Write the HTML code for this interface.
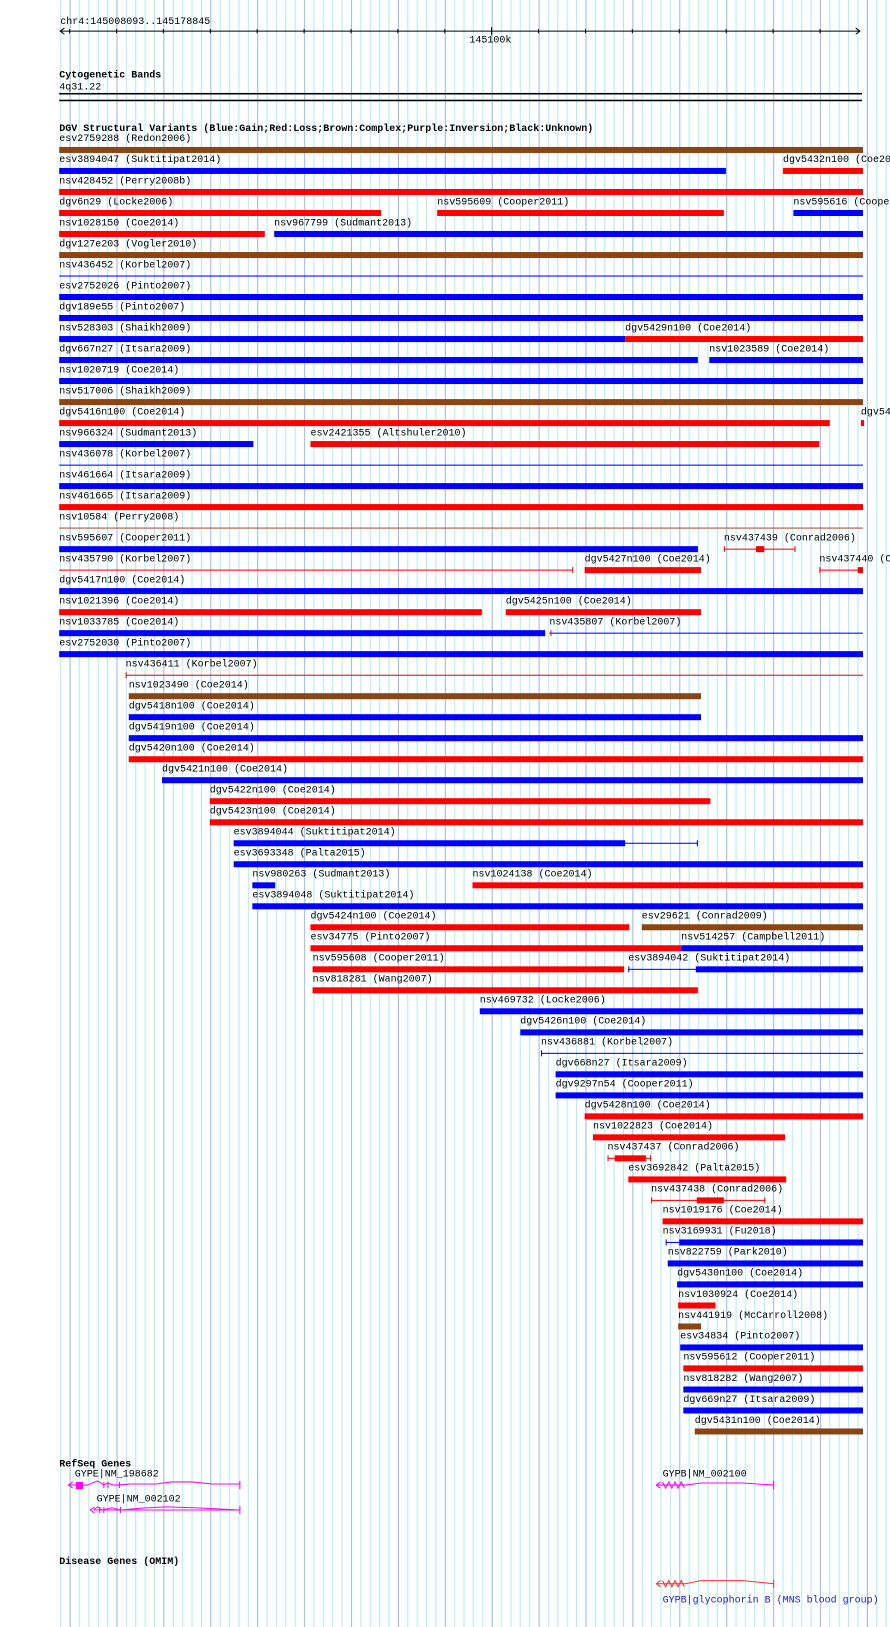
<!DOCTYPE html>
<html><head><meta charset="utf-8"><style>
html,body{margin:0;padding:0;background:#fff}
svg{display:block}
text{font-family:"Liberation Mono","DejaVu Sans Mono",monospace;font-size:9.63px;fill:#000}
.b{font-weight:bold}
</style></head><body>
<svg width="890" height="1627" viewBox="0 0 890 1627" xmlns="http://www.w3.org/2000/svg">
<defs>
<pattern id="g" x="60.2" y="0" width="46.9" height="10" patternUnits="userSpaceOnUse">
<rect x="0" y="0" width="1" height="10" fill="#a8eef2"/>
<rect x="9.38" y="0" width="1" height="10" fill="#8cb8f0"/>
<rect x="18.76" y="0" width="1" height="10" fill="#a8eef2"/>
<rect x="28.14" y="0" width="1" height="10" fill="#a8eef2"/>
<rect x="37.52" y="0" width="1" height="10" fill="#a8eef2"/>
</pattern>
</defs>
<rect x="60" y="0" width="830" height="1627" fill="url(#g)"/>
<g transform="scale(1.0385)">
<!-- ruler -->
<text x="58" y="23">chr4:145008093..145178845</text>
<line x1="58" y1="30" x2="828" y2="30" stroke="#000" stroke-width="1"/>
<path d="M62 27 L58 30 L62 33 M824 27 L828 30 L824 33" stroke="#000" fill="none" stroke-width="1"/>
<path d="M67 28v4M112.2 28v4M157.3 28v4M202.5 28v4M247.6 28v4M292.8 28v4M338 28v4M383.1 28v4M428.3 28v4M473.4 26v8M518.6 28v4M563.8 28v4M608.9 28v4M654.1 28v4M699.2 28v4M744.4 28v4M789.6 28v4" stroke="#000" stroke-width="1"/>
<text x="452" y="41">145100k</text>
<text x="57" y="74.5" class="b">Cytogenetic Bands</text>
<text x="57" y="86">4q31.22</text>
<rect x="57" y="89.5" width="773" height="1.5" fill="#000"/>
<rect x="57" y="96" width="773" height="1.5" fill="#000"/>
<text x="57" y="126" class="b">DGV Structural Variants (Blue:Gain;Red:Loss;Brown:Complex;Purple:Inversion;Black:Unknown)</text>

<g transform="translate(0,141.5)"><text x="57" y="-5.5">esv2759288 (Redon2006)</text><rect x="57" width="774" height="5.8" fill="#8b4513"/></g>
<g transform="translate(0,161.7)"><text x="57" y="-5.5">esv3894047 (Suktitipat2014)</text><rect x="57" width="642" height="5.8" fill="#0000ff"/><text x="754" y="-5.5">dgv5432n100 (Coe2014)</text><rect x="754" width="77" height="5.8" fill="#ff0000"/></g>
<g transform="translate(0,181.96)"><text x="57" y="-5.5">nsv428452 (Perry2008b)</text><rect x="57" width="774" height="5.8" fill="#ff0000"/></g>
<g transform="translate(0,202.2)"><text x="57" y="-5.5">dgv6n29 (Locke2006)</text><rect x="57" width="310" height="5.8" fill="#ff0000"/><text x="421" y="-5.5">nsv595609 (Cooper2011)</text><rect x="421" width="276" height="5.8" fill="#ff0000"/><text x="764" y="-5.5">nsv595616 (Cooper2011)</text><rect x="764" width="67" height="5.8" fill="#0000ff"/></g>
<g transform="translate(0,222.4)"><text x="57" y="-5.5">nsv1028150 (Coe2014)</text><rect x="57" width="198" height="5.8" fill="#ff0000"/><text x="264" y="-5.5">nsv967799 (Sudmant2013)</text><rect x="264" width="567" height="5.8" fill="#0000ff"/></g>
<g transform="translate(0,242.7)"><text x="57" y="-5.5">dgv127e203 (Vogler2010)</text><rect x="57" width="774" height="5.8" fill="#8b4513"/></g>
<g transform="translate(0,262.9)"><text x="57" y="-5.5">nsv436452 (Korbel2007)</text><rect x="57" y="2.4" width="774" height="1" fill="#0000ff"/></g>
<g transform="translate(0,283.1)"><text x="57" y="-5.5">esv2752026 (Pinto2007)</text><rect x="57" width="774" height="5.8" fill="#0000ff"/></g>
<g transform="translate(0,303.3)"><text x="57" y="-5.5">dgv189e55 (Pinto2007)</text><rect x="57" width="774" height="5.8" fill="#0000ff"/></g>
<g transform="translate(0,323.6)"><text x="57" y="-5.5">nsv528303 (Shaikh2009)</text><rect x="57" width="545" height="5.8" fill="#0000ff"/><text x="602" y="-5.5">dgv5429n100 (Coe2014)</text><rect x="602" width="229" height="5.8" fill="#ff0000"/></g>
<g transform="translate(0,343.8)"><text x="57" y="-5.5">dgv667n27 (Itsara2009)</text><rect x="57" width="615" height="5.8" fill="#0000ff"/><text x="683" y="-5.5">nsv1023589 (Coe2014)</text><rect x="683" width="148" height="5.8" fill="#0000ff"/></g>
<g transform="translate(0,364.0)"><text x="57" y="-5.5">nsv1020719 (Coe2014)</text><rect x="57" width="774" height="5.8" fill="#0000ff"/></g>
<g transform="translate(0,384.3)"><text x="57" y="-5.5">nsv517006 (Shaikh2009)</text><rect x="57" width="774" height="5.8" fill="#8b4513"/></g>
<g transform="translate(0,404.5)"><text x="57" y="-5.5">dgv5416n100 (Coe2014)</text><rect x="57" width="742" height="5.8" fill="#ff0000"/><text x="829" y="-5.5">dgv5415n100</text><rect x="829" width="3" height="5.8" fill="#ff0000"/></g>
<g transform="translate(0,424.7)"><text x="57" y="-5.5">nsv966324 (Sudmant2013)</text><rect x="57" width="187" height="5.8" fill="#0000ff"/><text x="299" y="-5.5">esv2421355 (Altshuler2010)</text><rect x="299" width="490" height="5.8" fill="#ff0000"/></g>
<g transform="translate(0,445.0)"><text x="57" y="-5.5">nsv436078 (Korbel2007)</text><rect x="57" y="2.4" width="774" height="1" fill="#0000ff"/></g>
<g transform="translate(0,465.2)"><text x="57" y="-5.5">nsv461664 (Itsara2009)</text><rect x="57" width="774" height="5.8" fill="#0000ff"/></g>
<g transform="translate(0,485.4)"><text x="57" y="-5.5">nsv461665 (Itsara2009)</text><rect x="57" width="774" height="5.8" fill="#ff0000"/></g>
<g transform="translate(0,505.6)"><text x="57" y="-5.5">nsv10584 (Perry2008)</text><rect x="57" y="2.4" width="774" height="1" fill="#a0522d"/></g>
<g transform="translate(0,525.9)"><text x="57" y="-5.5">nsv595607 (Cooper2011)</text><rect x="57" width="615" height="5.8" fill="#0000ff"/><text x="697" y="-5.5">nsv437439 (Conrad2006)</text><rect x="697" y="2.4" width="69" height="1" fill="#ff0000"/><rect x="697" width="1" height="5.8" fill="#ff0000"/><rect x="765" width="1" height="5.8" fill="#ff0000"/><rect x="728" width="8" height="5.8" fill="#ff0000"/></g>
<g transform="translate(0,546.1)"><text x="57" y="-5.5">nsv435790 (Korbel2007)</text><rect x="57" y="2.4" width="495" height="1" fill="#ff0000"/><rect x="551" width="1" height="5.8" fill="#ff0000"/><text x="563" y="-5.5">dgv5427n100 (Coe2014)</text><rect x="563" width="112" height="5.8" fill="#ff0000"/><text x="789" y="-5.5">nsv437440 (Conrad2006)</text><rect x="789" y="2.4" width="40" height="1" fill="#ff0000"/><rect x="789" width="1" height="5.8" fill="#ff0000"/><rect x="826" width="5" height="5.8" fill="#ff0000"/></g>
<g transform="translate(0,566.3)"><text x="57" y="-5.5">dgv5417n100 (Coe2014)</text><rect x="57" width="774" height="5.8" fill="#0000ff"/></g>
<g transform="translate(0,586.6)"><text x="57" y="-5.5">nsv1021396 (Coe2014)</text><rect x="57" width="407" height="5.8" fill="#ff0000"/><text x="487" y="-5.5">dgv5425n100 (Coe2014)</text><rect x="487" width="188" height="5.8" fill="#ff0000"/></g>
<g transform="translate(0,606.8)"><text x="57" y="-5.5">nsv1033785 (Coe2014)</text><rect x="57" width="468" height="5.8" fill="#0000ff"/><text x="529" y="-5.5">nsv435807 (Korbel2007)</text><rect x="529" y="2.4" width="302" height="1" fill="#0000ff"/><rect x="530" width="1" height="5.8" fill="#ff0000"/></g>
<g transform="translate(0,627.0)"><text x="57" y="-5.5">esv2752030 (Pinto2007)</text><rect x="57" width="774" height="5.8" fill="#0000ff"/></g>
<g transform="translate(0,647.3)"><text x="121" y="-5.5">nsv436411 (Korbel2007)</text><rect x="121" y="2.4" width="710" height="1" fill="#ff0000"/><rect x="121" width="1" height="5.8" fill="#ff0000"/></g>
<g transform="translate(0,667.5)"><text x="124" y="-5.5">nsv1023490 (Coe2014)</text><rect x="124" width="551" height="5.8" fill="#8b4513"/></g>
<g transform="translate(0,687.7)"><text x="124" y="-5.5">dgv5418n100 (Coe2014)</text><rect x="124" width="551" height="5.8" fill="#0000ff"/></g>
<g transform="translate(0,707.9)"><text x="124" y="-5.5">dgv5419n100 (Coe2014)</text><rect x="124" width="707" height="5.8" fill="#0000ff"/></g>
<g transform="translate(0,728.2)"><text x="124" y="-5.5">dgv5420n100 (Coe2014)</text><rect x="124" width="707" height="5.8" fill="#ff0000"/></g>
<g transform="translate(0,748.4)"><text x="156" y="-5.5">dgv5421n100 (Coe2014)</text><rect x="156" width="675" height="5.8" fill="#0000ff"/></g>
<g transform="translate(0,768.6)"><text x="202" y="-5.5">dgv5422n100 (Coe2014)</text><rect x="202" width="482" height="5.8" fill="#ff0000"/></g>
<g transform="translate(0,788.9)"><text x="202" y="-5.5">dgv5423n100 (Coe2014)</text><rect x="202" width="629" height="5.8" fill="#ff0000"/></g>
<g transform="translate(0,809.1)"><text x="225" y="-5.5">esv3894044 (Suktitipat2014)</text><rect x="225" width="377" height="5.8" fill="#0000ff"/><rect x="602" y="2.4" width="70" height="1" fill="#0000ff"/><rect x="671" width="1" height="5.8" fill="#0000ff"/></g>
<g transform="translate(0,829.3)"><text x="225" y="-5.5">esv3693348 (Palta2015)</text><rect x="225" width="606" height="5.8" fill="#0000ff"/></g>
<g transform="translate(0,849.6)"><text x="243" y="-5.5">nsv980263 (Sudmant2013)</text><rect x="243" width="22" height="5.8" fill="#0000ff"/><text x="455" y="-5.5">nsv1024138 (Coe2014)</text><rect x="455" width="376" height="5.8" fill="#ff0000"/></g>
<g transform="translate(0,869.8)"><text x="243" y="-5.5">esv3894048 (Suktitipat2014)</text><rect x="243" width="588" height="5.8" fill="#0000ff"/></g>
<g transform="translate(0,890.0)"><text x="299" y="-5.5">dgv5424n100 (Coe2014)</text><rect x="299" width="307" height="5.8" fill="#ff0000"/><text x="618" y="-5.5">esv29621 (Conrad2009)</text><rect x="618" width="213" height="5.8" fill="#8b4513"/></g>
<g transform="translate(0,910.2)"><text x="299" y="-5.5">esv34775 (Pinto2007)</text><rect x="299" width="357" height="5.8" fill="#ff0000"/><text x="656" y="-5.5">nsv514257 (Campbell2011)</text><rect x="656" width="175" height="5.8" fill="#0000ff"/></g>
<g transform="translate(0,930.5)"><text x="301" y="-5.5">nsv595608 (Cooper2011)</text><rect x="301" width="300" height="5.8" fill="#ff0000"/><text x="605" y="-5.5">esv3894042 (Suktitipat2014)</text><rect x="605" y="2.4" width="65" height="1" fill="#0000ff"/><rect x="605" width="1" height="5.8" fill="#0000ff"/><rect x="670" width="161" height="5.8" fill="#0000ff"/></g>
<g transform="translate(0,950.7)"><text x="301" y="-5.5">nsv818281 (Wang2007)</text><rect x="301" width="371" height="5.8" fill="#ff0000"/></g>
<g transform="translate(0,970.9)"><text x="462" y="-5.5">nsv469732 (Locke2006)</text><rect x="462" width="369" height="5.8" fill="#0000ff"/></g>
<g transform="translate(0,991.2)"><text x="501" y="-5.5">dgv5426n100 (Coe2014)</text><rect x="501" width="330" height="5.8" fill="#0000ff"/></g>
<g transform="translate(0,1011.4)"><text x="521" y="-5.5">nsv436881 (Korbel2007)</text><rect x="521" y="2.4" width="310" height="1" fill="#0000ff"/><rect x="521" width="1" height="5.8" fill="#0000ff"/></g>
<g transform="translate(0,1031.6)"><text x="535" y="-5.5">dgv668n27 (Itsara2009)</text><rect x="535" width="296" height="5.8" fill="#0000ff"/></g>
<g transform="translate(0,1051.9)"><text x="535" y="-5.5">dgv9297n54 (Cooper2011)</text><rect x="535" width="296" height="5.8" fill="#0000ff"/></g>
<g transform="translate(0,1072.1)"><text x="563" y="-5.5">dgv5428n100 (Coe2014)</text><rect x="563" width="268" height="5.8" fill="#ff0000"/></g>
<g transform="translate(0,1092.3)"><text x="571" y="-5.5">nsv1022823 (Coe2014)</text><rect x="571" width="185" height="5.8" fill="#ff0000"/></g>
<g transform="translate(0,1112.5)"><text x="585" y="-5.5">nsv437437 (Conrad2006)</text><rect x="585" y="2.4" width="42" height="1" fill="#ff0000"/><rect x="585" width="1" height="5.8" fill="#ff0000"/><rect x="626" width="1" height="5.8" fill="#ff0000"/><rect x="592" width="30" height="5.8" fill="#ff0000"/></g>
<g transform="translate(0,1132.8)"><text x="605" y="-5.5">esv3692842 (Palta2015)</text><rect x="605" width="152" height="5.8" fill="#ff0000"/></g>
<g transform="translate(0,1153.0)"><text x="627" y="-5.5">nsv437438 (Conrad2006)</text><rect x="627" y="2.4" width="110" height="1" fill="#ff0000"/><rect x="627" width="1" height="5.8" fill="#ff0000"/><rect x="736" width="1" height="5.8" fill="#ff0000"/><rect x="671" width="26" height="5.8" fill="#ff0000"/></g>
<g transform="translate(0,1173.2)"><text x="638" y="-5.5">nsv1019176 (Coe2014)</text><rect x="638" width="193" height="5.8" fill="#ff0000"/></g>
<g transform="translate(0,1193.5)"><text x="638" y="-5.5">nsv3169931 (Fu2018)</text><rect x="641" y="2.4" width="13" height="1" fill="#0000ff"/><rect x="641" width="1" height="5.8" fill="#0000ff"/><rect x="654" width="177" height="5.8" fill="#0000ff"/></g>
<g transform="translate(0,1213.7)"><text x="643" y="-5.5">nsv822759 (Park2010)</text><rect x="643" width="188" height="5.8" fill="#0000ff"/></g>
<g transform="translate(0,1233.9)"><text x="652" y="-5.5">dgv5430n100 (Coe2014)</text><rect x="652" width="179" height="5.8" fill="#0000ff"/></g>
<g transform="translate(0,1254.2)"><text x="653" y="-5.5">nsv1030924 (Coe2014)</text><rect x="653" width="36" height="5.8" fill="#ff0000"/></g>
<g transform="translate(0,1274.4)"><text x="653" y="-5.5">nsv441919 (McCarroll2008)</text><rect x="653" width="22" height="5.8" fill="#8b4513"/></g>
<g transform="translate(0,1294.6)"><text x="655" y="-5.5">esv34834 (Pinto2007)</text><rect x="655" width="176" height="5.8" fill="#0000ff"/></g>
<g transform="translate(0,1314.8)"><text x="658" y="-5.5">nsv595612 (Cooper2011)</text><rect x="658" width="173" height="5.8" fill="#ff0000"/></g>
<g transform="translate(0,1335.1)"><text x="658" y="-5.5">nsv818282 (Wang2007)</text><rect x="658" width="173" height="5.8" fill="#0000ff"/></g>
<g transform="translate(0,1355.3)"><text x="658" y="-5.5">dgv669n27 (Itsara2009)</text><rect x="658" width="173" height="5.8" fill="#0000ff"/></g>
<g transform="translate(0,1375.5)"><text x="669" y="-5.5">dgv5431n100 (Coe2014)</text><rect x="669" width="162" height="5.8" fill="#8b4513"/></g>

<!-- RefSeq -->
<text x="57" y="1412" class="b">RefSeq Genes</text>
<text x="72" y="1422">GYPE|NM_198682</text>
<g stroke="#ff00ff" fill="none" stroke-width="1">
<path d="M66 1430 H84 L94 1426 L100 1430 L104 1428 L109 1430 L115 1430 L125 1429 H150 L165 1427 H185 L205 1429 H231"/>
<path d="M70 1427 L66 1430 L70 1433"/>
<path d="M231 1426 V1434 M100 1427v6 M115 1427v6 M104 1427v6"/>
<path d="M90 1454 H231 M91 1451 L87 1454 L91 1457 M231 1450 V1458 M96 1451v6 M100 1451v6 M116 1451v6"/>
<path d="M90 1454 L94 1451 L98 1454 L108 1452 L116 1454 L140 1452 L160 1451 L190 1452 L231 1454"/>
<path d="M632 1430 H660 L675 1428 H690 L715 1428 L745 1430 M636 1427 L632 1430 L636 1433 M745 1426 V1434"/>
<path d="M638 1427 L641 1433 L644 1427 L647 1433 L650 1427 L653 1433 L656 1427 L659 1433"/>
<path d="M632 1525 H660 L675 1522 H690 L715 1522 L745 1525 M636 1522 L632 1525 L636 1528 M745 1521 V1529 M638 1522 L641 1528 L644 1522 L647 1528 L650 1522 L653 1528 L656 1522 L659 1528" stroke="#ff3030"/>
</g>
<rect x="73" y="1427" width="7" height="7" fill="#ff00ff"/>
<text x="93" y="1446">GYPE|NM_002102</text>
<text x="638" y="1422">GYPB|NM_002100</text>
<text x="57" y="1506" class="b">Disease Genes (OMIM)</text>
<text x="638" y="1543" style="fill:#2020c0">GYPB|glycophorin B (MNS blood group)</text>
</g>
</svg>
</body></html>
